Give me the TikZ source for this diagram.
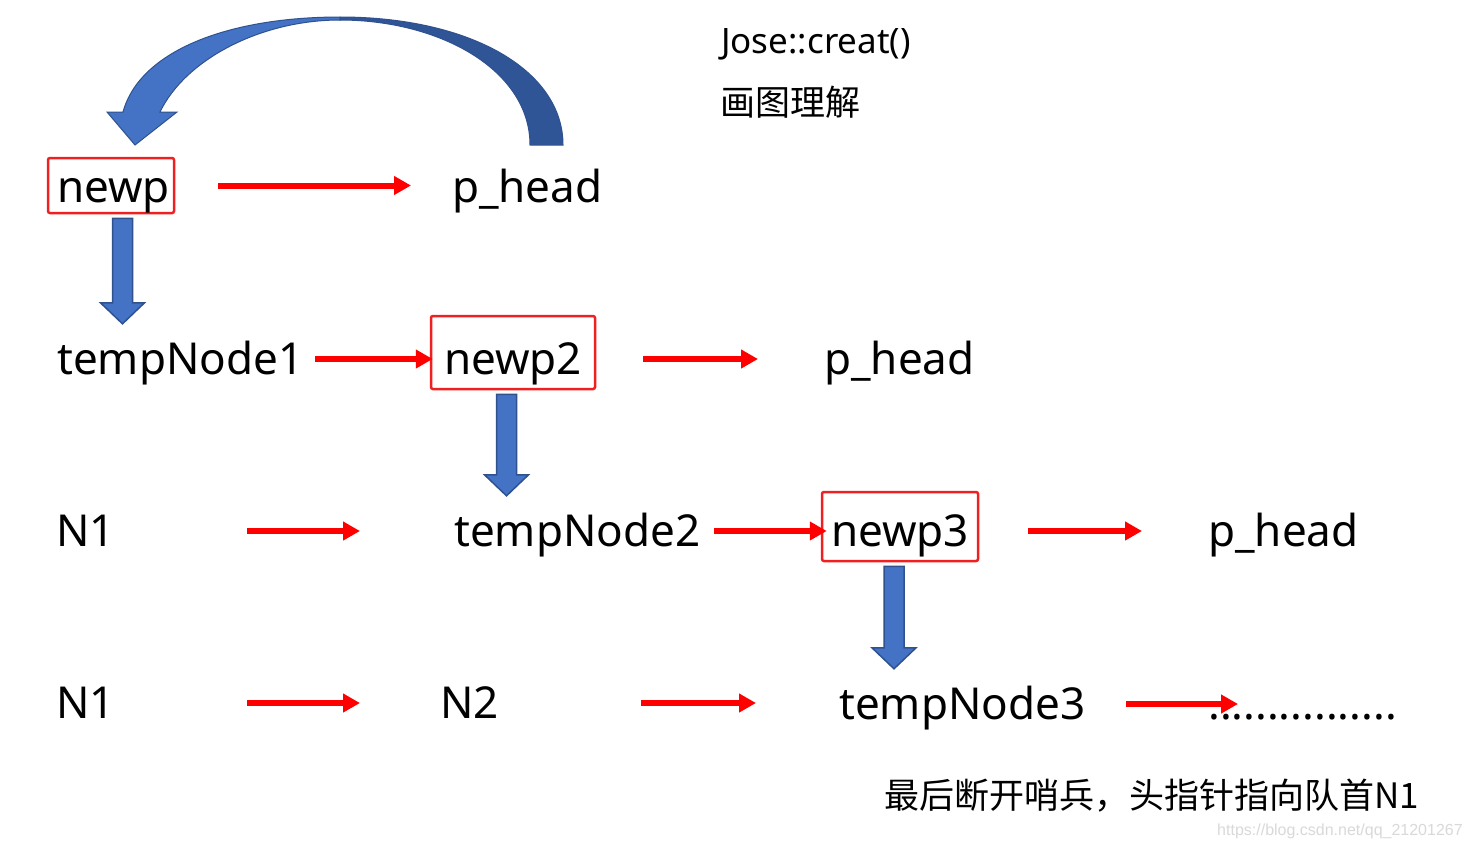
\documentclass[tikz,border=0pt]{standalone}
\usepackage{fontspec}
\setmainfont{Noto Sans}
\newfontfamily\cjk{Noto Sans CJK SC}
\newfontfamily\wmfont{Liberation Sans}
\usepackage{tikz}
\usetikzlibrary{arrows.meta,calc}
\definecolor{arrowred}{RGB}{255,0,0}
\definecolor{boxred}{RGB}{240,32,32}
\definecolor{lightblue}{RGB}{68,114,196}
\definecolor{darkblue}{RGB}{47,85,151}
\definecolor{edgeblue}{RGB}{47,82,143}
\tikzstyle{word} = [inner sep=0pt, anchor=base west, text height=40pt, text depth=10pt,
                    font=\fontsize{44pt}{50pt}\selectfont]
\tikzstyle{box} = [draw=boxred, line width=2.5pt, rounded corners=2pt, inner sep=0pt,
                   font=\fontsize{44pt}{50pt}\selectfont]
\tikzstyle{caption} = [inner sep=0pt, anchor=base west, font=\fontsize{35pt}{40pt}\selectfont]
\tikzstyle{redarrow} = [-{Triangle[length=17pt,width=18pt]}, line width=6pt, draw=arrowred]
\tikzstyle{blockarrow} = [fill=lightblue, draw=edgeblue, line width=1.5pt]
% thick blue arrow pointing down from one node to the next row
\newcommand{\blockdown}[3]{%
  \draw [blockarrow] let \p1=($(#1.south)+(#3,0)$), \p2=(#2.north) in
    (\x1-10pt,\y1-4pt) -- (\x1+10pt,\y1-4pt) -- (\x1+10pt,\y2+31pt)
    -- (\x1+22pt,\y2+31pt) -- (\x1,\y2+10pt) -- (\x1-22pt,\y2+31pt)
    -- (\x1-10pt,\y2+31pt) -- cycle;}

\begin{document}
\begin{tikzpicture}[x=1pt, y=-1pt]
    \useasboundingbox (0,0) rectangle (1471,847);
    \fill [white] (0,0) rectangle (1471,847);

    \node [caption] (title) at (721,53) {Jose::creat()};
    \node [caption, font=\cjk\fontsize{35pt}{40pt}\selectfont] (sub) at (720,115) {画图理解};

    \node [box, minimum width=126pt, minimum height=55pt, text height=40pt, text depth=7pt] (newp) at (111,185.5) {\hspace{5pt}newp};
    \node [word] (phead1) at (452,202) {p\_head};

    \node [word] (tempNode1) at (57,374) {tempNode1};
    \node [box, minimum width=164pt, minimum height=73pt, text height=48pt, text depth=5pt] (newp2) at (513,352.5) {newp2};
    \node [word] (phead2) at (824,374) {p\_head};

    \node [word] (n1a) at (56,546) {N1};
    \node [word] (tempNode2) at (454,546) {tempNode2};
    \node [box, minimum width=156pt, minimum height=69pt, text height=44pt, text depth=5pt] (newp3) at (900,526.5) {newp3};
    \node [word] (phead3) at (1208,546) {p\_head};

    \node [word] (n1b) at (56,718) {N1};
    \node [word] (n2) at (440,718) {N2};
    \node [word] (tempNode3) at (839,719) {tempNode3};
    \node [word] (dots) at (1208,719) {................};

    \node [caption, font=\cjk\fontsize{35pt}{40pt}\selectfont] (note) at (884,808) {最后断开哨兵，头指针指向队首N1};
    \node [inner sep=0pt, anchor=base west, text=gray!30, font=\wmfont\fontsize{16pt}{18pt}\selectfont] (mark) at (1217,835) {https://blog.csdn.net/qq\_21201267};

    % curved arrow from p_head back to newp
    \filldraw [fill=lightblue, draw=edgeblue, line width=1pt]
      (340,17) .. controls (230,17) and (140,50) .. (123,112) -- (107,112) -- (135,145)
      -- (177,112) -- (160,112) .. controls (185,60) and (260,20) .. (340,20) -- cycle;
    \filldraw [fill=darkblue, draw=edgeblue, line width=1pt]
      (340,17) .. controls (470,17) and (563,70) .. (563,145) -- (530,145)
      .. controls (530,70) and (440,20) .. (340,20) -- cycle;

    \draw [redarrow, shorten <=43pt, shorten >=41pt] (newp.east) -- (newp.east -| phead1.west);
    \draw [redarrow, shorten <=12pt, shorten >=-3pt] (tempNode1.east) -- (tempNode1.east -| newp2.west);
    \draw [redarrow, shorten <=47pt, shorten >=66pt] (newp2.east |- phead2.west) -- (phead2.west);
    \draw [redarrow, shorten <=132pt, shorten >=94pt] (n1a.east) -- (tempNode2.west);
    \draw [redarrow, shorten <=14pt, shorten >=-6pt] (tempNode2.east) -- (tempNode2.east -| newp3.west);
    \draw [redarrow, shorten <=49pt, shorten >=66pt] (newp3.east |- phead3.west) -- (phead3.west);
    \draw [redarrow, shorten <=132pt, shorten >=80pt] (n1b.east) -- (n2.west);
    \draw [redarrow, shorten <=142pt, shorten >=83pt] (n2.east) -- (n2.east -| tempNode3.west);
    \draw [redarrow, shorten <=41pt, shorten >=-30pt] (tempNode3.east) -- (tempNode3.east -| dots.west);

    \blockdown{newp}{tempNode1}{11.5}
    \blockdown{newp2}{tempNode2}{-6.5}
    \blockdown{newp3}{tempNode3}{-6}
\end{tikzpicture}
\end{document}
